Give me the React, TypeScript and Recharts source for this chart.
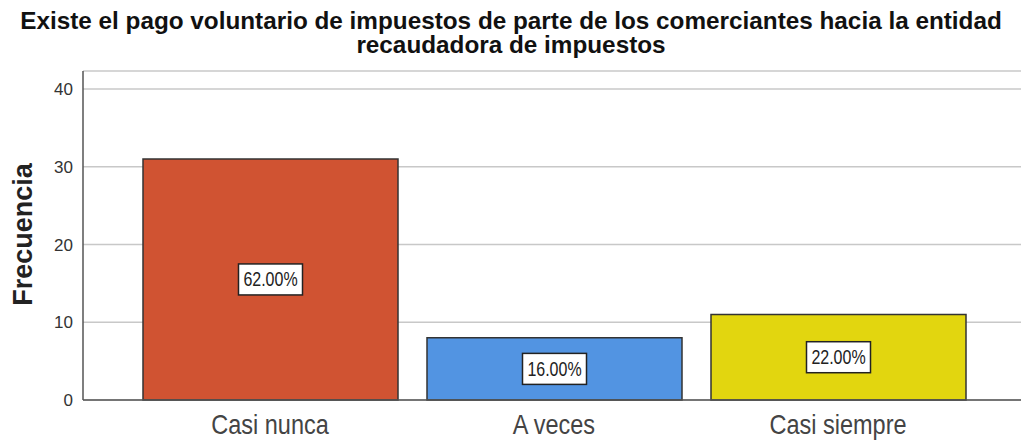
import { BarChart, Bar, XAxis, YAxis, CartesianGrid, Cell, LabelList } from 'recharts';

const categories = ['Casi nunca', 'A veces', 'Casi siempre'];
const counts = [31, 8, 11];
const percentLabels = ['62.00%', '16.00%', '22.00%'];
const barColors = ['#D05332', '#5294E2', '#E2D60F'];
const yTicks = [0, 10, 20, 30, 40];
const titleLines = [
  'Existe el pago voluntario de impuestos de parte de los comerciantes hacia la entidad',
  'recaudadora de impuestos',
];

const rows = categories.map((name, i) => ({ name, value: counts[i], pct: percentLabels[i] }));

const FONT = '"Liberation Sans", Arial, sans-serif';

function YTick(props: any) {
  const { x, y, payload } = props;
  return (
    <text x={x} y={y} dy="0.36em" textAnchor="end" fontSize={17} fill="#333" fontFamily={FONT}>
      {payload.value}
    </text>
  );
}

function XTick(props: any) {
  const { x, y, payload } = props;
  return (
    <text
      transform={`translate(${x},${y + 34}) scale(1,1.19)`}
      textAnchor="middle"
      fontSize={23.5}
      fill="#444"
      fontFamily={FONT}
    >
      {payload.value}
    </text>
  );
}

function PctLabel(props: any) {
  const { x, y, width, height, value } = props;
  const cx = x + width / 2;
  const cy = y + height / 2;
  return (
    <g>
      <rect x={cx - 32} y={cy - 15.5} width={64} height={31} fill="#fff" stroke="#222" strokeWidth={1.5} />
      <text
        transform={`translate(${cx},${cy + 7}) scale(1,1.28)`}
        textAnchor="middle"
        fontSize={16}
        fill="#222"
        fontFamily={FONT}
      >
        {value}
      </text>
    </g>
  );
}

function YLabel(props: any) {
  const vb = props.viewBox || { y: 71, height: 329 };
  const cy = vb.y + vb.height / 2;
  return (
    <text
      transform={`translate(32,${cy - 1}) rotate(-90)`}
      textAnchor="middle"
      fontSize={27}
      fontWeight="bold"
      fill="#222"
      fontFamily={FONT}
    >
      Frecuencia
    </text>
  );
}

export default function App() {
  return (
    <div style={{ position: 'absolute', left: 0, top: 0, width: 1021, height: 441, background: '#fff' }}>
      <svg width={1021} height={70} style={{ position: 'absolute', left: 0, top: 0 }}>
        {titleLines.map((t, i) => (
          <text
            key={i}
            x={511}
            y={29 + i * 24}
            textAnchor="middle"
            fontSize={24.3}
            fontWeight="bold"
            fill="#111"
            fontFamily={FONT}
          >
            {t}
          </text>
        ))}
      </svg>
      <div style={{ position: 'absolute', left: 0, top: 0 }}>
        <BarChart width={1021} height={441} data={rows} margin={{ top: 71, right: 0, bottom: 0, left: 43 }}>
          <CartesianGrid vertical={false} stroke="#c8c8c8" strokeWidth={1.5} />
          <XAxis
            dataKey="name"
            height={41}
            padding={{ left: 45, right: 41 }}
            tickLine={false}
            tickSize={0}
            tickMargin={0}
            axisLine={{ stroke: '#555', strokeWidth: 1.5 }}
            tick={<XTick />}
            interval={0}
          />
          <YAxis
            width={40}
            domain={[0, 42.3]}
            ticks={yTicks}
            tickLine={false}
            tickSize={0}
            tickMargin={10}
            axisLine={{ stroke: '#555', strokeWidth: 1.5 }}
            tick={<YTick />}
            label={{ content: <YLabel /> }}
          />
          <Bar dataKey="value" barSize={255} stroke="#333" strokeWidth={1.5} isAnimationActive={false}>
            {rows.map((r, i) => (
              <Cell key={r.name} fill={barColors[i]} />
            ))}
            <LabelList dataKey="pct" content={<PctLabel />} />
          </Bar>
        </BarChart>
      </div>
    </div>
  );
}
